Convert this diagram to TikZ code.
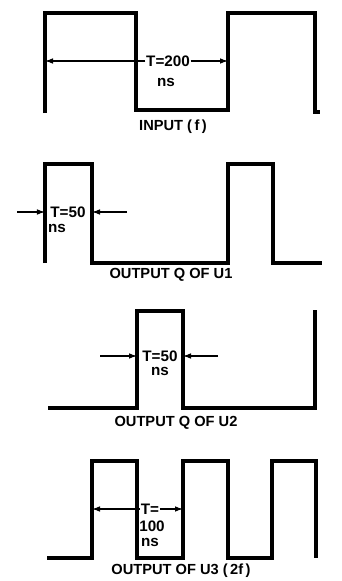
\documentclass[tikz,border=0pt]{standalone}
\usepackage{fontspec}
\setmainfont{Liberation Sans}
\usetikzlibrary{arrows.meta,positioning}
\tikzset{
  jel/.style={line width=2.6pt,line join=miter},
  nyil/.style={-{Latex[length=2.4mm,width=1.7mm]},line width=1pt},
  ertek/.style={font=\bfseries\fontsize{13}{14}\selectfont,inner sep=0.5pt},
  cimke/.style={font=\bfseries\fontsize{12.5}{13}\selectfont,inner sep=1pt},
}

\begin{document}
\begin{tikzpicture}[x=0.03cm,y=-0.03cm]
  \useasboundingbox (0,0) rectangle (342,581);
  \draw[jel] (45,113) |- (136,13) |- (228,110) |- (315,13) |- (320,112);
  \node[ertek] (t1) at (168,61) {T=200};
  \node[ertek] (n1) at (166,82) {ns};
  \coordinate (b1) at (45,61);
  \coordinate (j1) at (228,61);
  \draw[nyil] (t1) -- (b1);
  \draw[nyil] (t1) -- (j1);
  \node[cimke] (l1) at (173,127) {INPUT (\,f\,)};

  \draw[jel] (45,263) |- (92,164) |- (228,263) |- (273,164) |- (322,263);
  \node[ertek] (t2) at (68,212) {T=50};
  \node[ertek] (n2) at (57,228) {ns};
  \coordinate (b2) at (17,212);
  \coordinate (e2) at (45,212);
  \coordinate (j2) at (127,212);
  \coordinate (f2) at (92,212);
  \draw[nyil] (b2) -- (e2);
  \draw[nyil] (j2) -- (f2);
  \node[cimke] (l2) at (171,275) {OUTPUT Q OF U1};

  \draw[jel] (48,408) -| (137,311) -| (183,408) -| (315,310);
  \node[ertek] (t3) at (160,356) {T=50};
  \node[ertek] (n3) at (160,371) {ns};
  \coordinate (b3) at (100,356);
  \coordinate (e3) at (137,356);
  \coordinate (j3) at (218,356);
  \coordinate (f3) at (183,356);
  \draw[nyil] (b3) -- (e3);
  \draw[nyil] (j3) -- (f3);
  \node[cimke] (l3) at (176,423) {OUTPUT Q OF U2};

  \draw[jel] (47,558) -| (92,461) -| (137,558) -| (183,461) -| (228,558) -| (272,461) -| (316,558);
  \node[ertek] (t4) at (150,509) {T=};
  \node[ertek] (c4) at (152,526) {100};
  \node[ertek] (n4) at (150,542) {ns};
  \coordinate (b4) at (92,509);
  \coordinate (j4) at (183,509);
  \draw[nyil] (t4) -- (b4);
  \draw[nyil] (t4) -- (j4);
  \node[cimke] (l4) at (181,571) {OUTPUT OF U3 (\,2f\,)};
\end{tikzpicture}
\end{document}
